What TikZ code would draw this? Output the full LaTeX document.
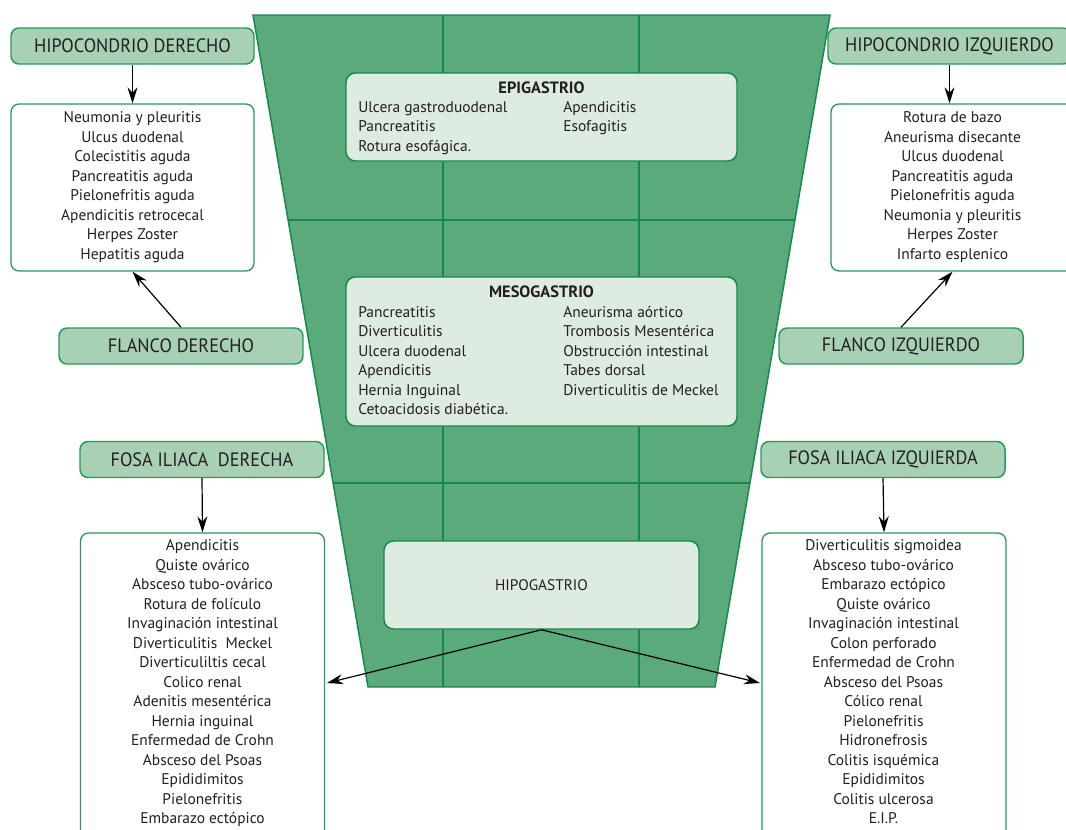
\documentclass[tikz,border=0pt]{standalone}
\usepackage{fontspec}
\setmainfont{PT Sans}
\newfontfamily\hdrfamily[FakeStretch=0.94]{PT Sans}
\usetikzlibrary{arrows.meta}

\definecolor{trapfill}{HTML}{5AAA7C}
\definecolor{trapline}{HTML}{15884A}
\definecolor{hdrfill}{HTML}{A8D0B5}
\definecolor{hdrline}{HTML}{279A56}
\definecolor{boxfill}{HTML}{DDEBE1}
\definecolor{ink}{HTML}{231F20}

\newcommand\listfont{\fontsize{11.6}{14.625}\selectfont}
\newcommand\ttlfont{\fontsize{12.3}{14.625}\selectfont\bfseries}
\newcommand\hdrfont{\hdrfamily\fontsize{14.5}{17}\selectfont}

\begin{document}
\begin{tikzpicture}[x=0.75pt,y=-0.75pt,
  hdr/.style={draw=hdrline, fill=hdrfill, line width=1.1pt, rounded corners=6pt,
    minimum width=182.25pt, minimum height=27pt, inner sep=0pt, font=\hdrfont, text=ink},
  listbox/.style={draw=hdrline, fill=white, line width=1pt, rounded corners=6pt, inner sep=0pt},
  inbox/.style={draw=trapline, fill=boxfill, line width=1.1pt, rounded corners=7pt,
    inner sep=0pt, minimum width=293.25pt},
  txt/.style={inner sep=0pt, font=\listfont, text=ink},
  ttl/.style={inner sep=0pt, font=\ttlfont, text=ink},
  arr/.style={-{Stealth[length=12pt,width=7.5pt,inset=4pt]}, line width=0.9pt, black}]

\useasboundingbox (0,0) rectangle (1066,829);
\clip (0,0) rectangle (1066,829);

% abdominal trapezoid with its nine regions
\path[draw=trapline, fill=trapfill, line width=1.1pt]
  (253,15) -- (830,15) -- (715,687) -- (368,687) -- cycle;
\begin{scope}
  \clip (253,15) -- (830,15) -- (715,687) -- (368,687) -- cycle;
  \draw[trapline, line width=1.1pt] (250,220) -- (840,220);
  \draw[trapline, line width=1.1pt] (250,483) -- (840,483);
  \draw[trapline, line width=1.1pt] (443,10) -- (443,690);
  \draw[trapline, line width=1.1pt] (639,10) -- (639,690);
\end{scope}

% central regions
\node[inbox, minimum height=66pt] (epi) at (541.5,117) {};
\node[ttl, anchor=base] (epit) at (541.5,93) {EPIGASTRIO};
\node[txt, anchor=base west] (epil) at (358,112) {\begin{tabular}[t]{@{}l@{}}
  Ulcera gastroduodenal\\ Pancreatitis\\ Rotura esofágica.\end{tabular}};
\node[txt, anchor=base west] (epir) at (563,112) {\begin{tabular}[t]{@{}l@{}}
  Apendicitis\\ Esofagitis\end{tabular}};

\node[inbox, minimum height=111.75pt] (meso) at (541.5,351.5) {};
\node[ttl, anchor=base] (mesot) at (541.5,297) {MESOGASTRIO};
\node[txt, anchor=base west] (mesol) at (358,317) {\begin{tabular}[t]{@{}l@{}}
  Pancreatitis\\ Diverticulitis\\ Ulcera duodenal\\ Apendicitis\\
  Hernia Inguinal\\ Cetoacidosis diabética.\end{tabular}};
\node[txt, anchor=base west] (mesor) at (563,317) {\begin{tabular}[t]{@{}l@{}}
  Aneurisma aórtico\\ Trombosis Mesentérica\\ Obstrucción intestinal\\
  Tabes dorsal\\ Diverticulitis de Meckel\end{tabular}};

\node[inbox, minimum width=236.25pt, minimum height=66pt, font=\fontsize{11.5}{14}\selectfont, text=ink]
  (hipo) at (541.5,585) {HIPOGASTRIO};

% region headers
\node[hdr] (hd) at (132.5,46) {HIPOCONDRIO DERECHO};
\node[hdr] (hi) at (949.5,46) {HIPOCONDRIO IZQUIERDO};
\node[hdr, minimum width=183pt] (fd) at (181,346) {FLANCO DERECHO};
\node[hdr, minimum width=183pt] (fi) at (901,346) {FLANCO IZQUIERDO};
\node[hdr, minimum width=183pt] (fid) at (202,459.5) {FOSA ILIACA\ \ DERECHA};
\node[hdr, minimum width=183pt] (fii) at (883,459.5) {FOSA ILIACA IZQUIERDA};

% lists of conditions
\node[listbox, minimum width=182.25pt, minimum height=125.25pt] (hdl) at (132.5,187.5) {};
\node[txt, anchor=base] (hdlt) at (132.5,122.7) {\begin{tabular}[t]{@{}c@{}}
  Neumonia y pleuritis\\ Ulcus duodenal\\ Colecistitis aguda\\ Pancreatitis aguda\\
  Pielonefritis aguda\\ Apendicitis retrocecal\\ Herpes Zoster\\ Hepatitis aguda\end{tabular}};

\node[listbox, minimum width=182.25pt, minimum height=125.25pt] (hil) at (952.5,187.5) {};
\node[txt, anchor=base] (hilt) at (952.5,122.7) {\begin{tabular}[t]{@{}c@{}}
  Rotura de bazo\\ Aneurisma disecante\\ Ulcus duodenal\\ Pancreatitis aguda\\
  Pielonefritis aguda\\ Neumonia y pleuritis\\ Herpes Zoster\\ Infarto esplenico\end{tabular}};

\node[listbox, minimum width=183pt, minimum height=245.25pt] (lbot) at (202.5,696.5) {};
\node[txt, anchor=base] (lbott) at (202.5,550.7) {\begin{tabular}[t]{@{}c@{}}
  Apendicitis\\ Quiste ovárico\\ Absceso tubo-ovárico\\ Rotura de folículo\\
  Invaginación intestinal\\ Diverticulitis\ \ Meckel\\ Diverticuliltis cecal\\
  Colico renal\\ Adenitis mesentérica\\ Hernia inguinal\\ Enfermedad de Crohn\\
  Absceso del Psoas\\ Epididimitos\\ Pielonefritis\\ Embarazo ectópico\end{tabular}};

\node[listbox, minimum width=183pt, minimum height=245.25pt] (rbot) at (884,696.5) {};
\node[txt, anchor=base] (rbott) at (883.5,550.7) {\begin{tabular}[t]{@{}c@{}}
  Diverticulitis sigmoidea\\ Absceso tubo-ovárico\\ Embarazo ectópico\\ Quiste ovárico\\
  Invaginación intestinal\\ Colon perforado\\ Enfermedad de Crohn\\ Absceso del Psoas\\
  Cólico renal\\ Pielonefritis\\ Hidronefrosis\\ Colitis isquémica\\
  Epididimitos\\ Colitis ulcerosa\\ E.I.P.\end{tabular}};

% connectors
\coordinate (ltip) at (327,683);
\coordinate (rtip) at (760,683);
\draw[arr] (hd.south) -- (hdl.north);
\draw[arr] (hi.south) -- (hi.south |- hil.north);
\draw[arr] (fd.north) -- (hdl.south);
\draw[arr] (fi.north) -- (hil.south);
\draw[arr] (fid.south) -- (lbot.north);
\draw[arr] (fii.south) -- (rbot.north);
\draw[arr] (hipo.south) -- (ltip);
\draw[arr] (hipo.south) -- (rtip);
\end{tikzpicture}
\end{document}
